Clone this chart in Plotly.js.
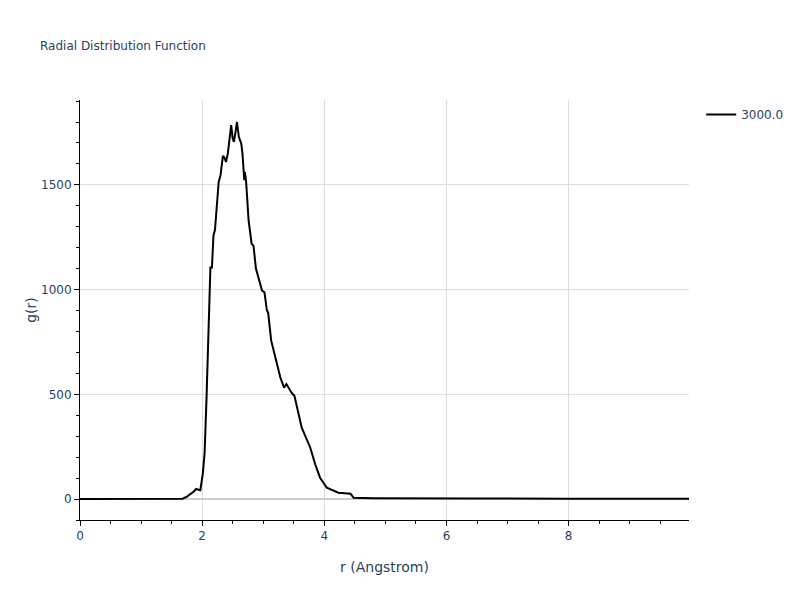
<!DOCTYPE html>
<html>
<head>
<meta charset="utf-8">
<script src="https://cdn.plot.ly/plotly-3.0.1.min.js"></script>
<style>html,body{margin:0;padding:0;background:#fff;}#chart{width:800px;height:600px;}</style>
</head>
<body>
<div id="chart"></div>
<script>
const seriesName = "3000.0";
const rValues = [0, 0.5, 1.0, 1.5, 1.68, 1.75, 1.82, 1.86, 1.9, 1.94, 1.97, 2.01, 2.04, 2.07, 2.10, 2.12, 2.135, 2.16, 2.185, 2.21, 2.24, 2.27, 2.30, 2.32, 2.34, 2.36, 2.39, 2.42, 2.45, 2.475, 2.50, 2.52, 2.55, 2.57, 2.60, 2.64, 2.66, 2.68, 2.69, 2.70, 2.72, 2.76, 2.81, 2.84, 2.88, 2.98, 3.02, 3.06, 3.08, 3.13, 3.20, 3.28, 3.34, 3.38, 3.46, 3.51, 3.63, 3.77, 3.85, 3.93, 4.04, 4.23, 4.43, 4.48, 4.8, 5.5, 6.5, 8.0, 9.97];
const gValues = [0, 1, 1, 1, 2, 12, 25, 35, 48, 44, 42, 120, 220, 470, 790, 947, 1105, 1105, 1258, 1285, 1426, 1513, 1545, 1600, 1638, 1633, 1609, 1649, 1729, 1785, 1721, 1705, 1761, 1800, 1729, 1697, 1649, 1561, 1522, 1561, 1513, 1330, 1219, 1210, 1100, 995, 987, 900, 890, 756, 676, 580, 532, 549, 509, 493, 341, 245, 166, 102, 54, 30, 25, 6, 4, 5, 3, 1, 1];

const textColor = '#2a3f5f';
const fontFamily = 'Verdana, "DejaVu Sans", sans-serif';
const trace = {
  x: rValues, y: gValues, type: 'scatter', mode: 'lines', name: seriesName,
  line: {color: 'black', width: 2}, showlegend: true
};
const axisCommon = {
  showline: true, linecolor: 'black', linewidth: 1,
  ticks: 'outside', ticklen: 5, tickcolor: 'black',
  gridcolor: '#dddddd', gridwidth: 1,
  tickfont: {color: textColor, size: 12, family: fontFamily},
  zeroline: false
};
const layout = {
  width: 800, height: 600,
  font: {family: fontFamily, color: textColor},
  paper_bgcolor: 'white', plot_bgcolor: 'white',
  title: {text: 'Radial Distribution Function', font: {size: 12, color: textColor, family: fontFamily}, x: 0.05},
  xaxis: Object.assign({}, axisCommon, {
    title: {text: 'r (Angstrom)', font: {size: 14, color: textColor, family: fontFamily}},
    range: [0, 9.97], dtick: 2, tick0: 0,
    minor: {dtick: 0.5, ticks: 'outside', ticklen: 3, tickcolor: 'black', showgrid: false}
  }),
  yaxis: Object.assign({}, axisCommon, {
    title: {text: 'g(r)', font: {size: 14, color: textColor, family: fontFamily}},
    range: [-100, 1905], dtick: 500, tick0: 0,
    zeroline: true, zerolinecolor: '#cccccc', zerolinewidth: 2,
    minor: {dtick: 100, ticks: 'outside', ticklen: 3, tickcolor: 'black', showgrid: false}
  }),
  legend: {font: {color: textColor, size: 12, family: fontFamily}},
  margin: {l: 80, r: 80, t: 100, b: 80}
};
Plotly.newPlot('chart', [trace], layout, {displayModeBar: false});
</script>
</body>
</html>
